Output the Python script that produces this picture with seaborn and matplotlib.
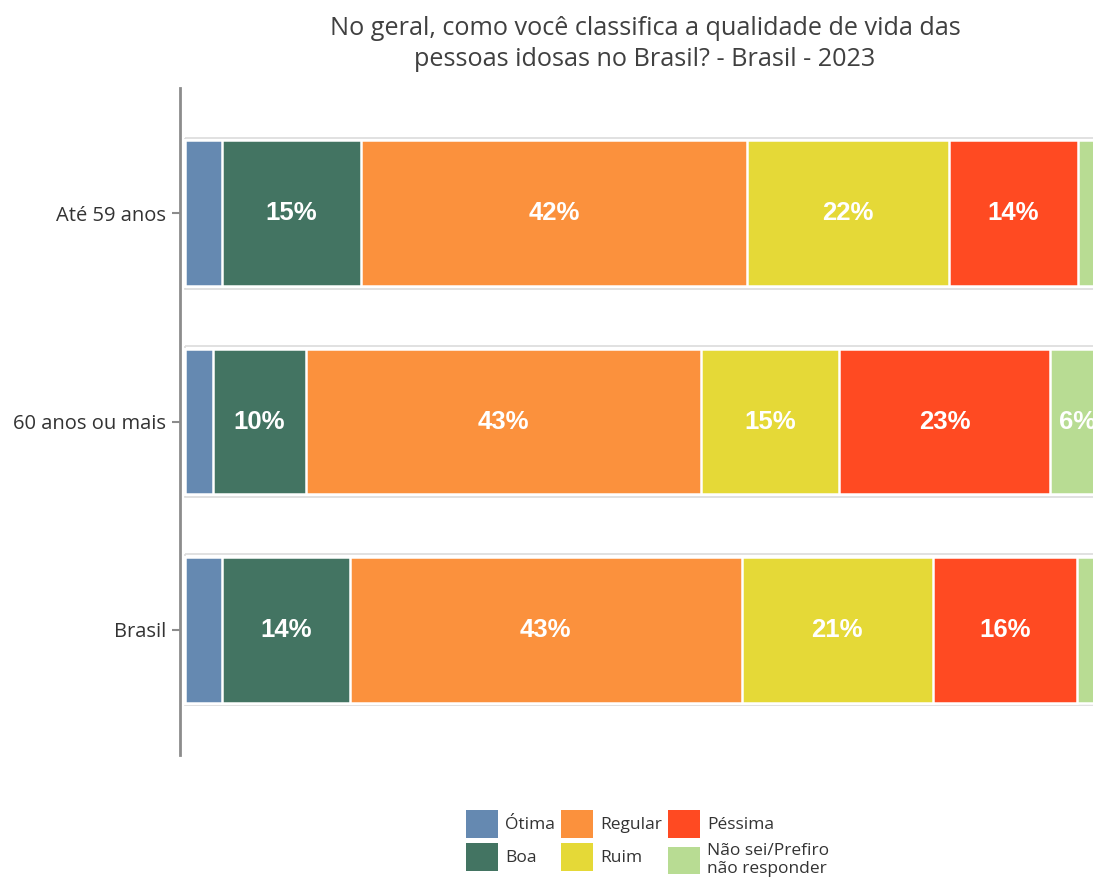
import numpy as np
import pandas as pd
import matplotlib
matplotlib.use("Agg")
import matplotlib.pyplot as plt
from matplotlib.patches import Patch
import seaborn as sns

groups = ["Até 59 anos", "60 anos ou mais", "Brasil"]
categories = ["Ótima", "Boa", "Regular", "Ruim", "Péssima", "Não sei/Prefiro\nnão responder"]
otima = [4.0, 3.0, 4.0]
boa = [15.1, 10.2, 13.9]
regular = [42.0, 42.9, 42.6]
ruim = [21.9, 15.0, 20.8]
pessima = [14.1, 22.9, 15.7]
nao_sei = [2.9, 6.0, 3.0]
colors = ["#6589B1", "#437462", "#FB913D", "#E5D937", "#FF4A22", "#B8DC93"]

sns.set_style("white")
plt.rcParams["font.family"] = ["Open Sans", "DejaVu Sans"]

series = np.array([otima, boa, regular, ruim, pessima, nao_sei], dtype=float)
cum = np.cumsum(series, axis=0)
df = pd.DataFrame(cum.T, columns=categories)
df["grupo"] = groups

fig = plt.figure(figsize=(10.93, 8.8), dpi=100)
ax = fig.add_axes([180 / 1093, 1 - 755 / 880, 1 - 180 / 1093, (755 - 88) / 880])

# light frame around each whole bar
sns.barplot(data=df, x=categories[-1], y="grupo", orient="h", fill=False,
            color="#dcdcdc", width=0.725, linewidth=1.2, ax=ax)

# stacked bars: draw cumulative totals from the outermost inward
for i in range(len(categories) - 1, -1, -1):
    sns.barplot(data=df, x=categories[i], y="grupo", orient="h", color=colors[i],
                saturation=1, width=0.7, edgecolor="white", linewidth=1.8, ax=ax)

for gi in range(len(groups)):
    start = 0
    for ci in range(len(categories)):
        v = series[ci, gi]
        if v >= 5:
            ax.text(start + v / 2, gi, f"{round(v):.0f}%", ha="center", va="center",
                    color="white", fontsize=18.5, fontweight="bold",
                    family=["Liberation Sans", "DejaVu Sans"])
        start += v

ax.set_xlim(-0.54, 98.7)
ax.set_ylim(2.6, -0.6)
ax.set_xlabel("")
ax.set_ylabel("")
ax.set_xticks([])
for s in ["top", "right", "bottom"]:
    ax.spines[s].set_visible(False)
ax.spines["left"].set_color("#8c8c8c")
ax.spines["left"].set_linewidth(2)
ax.tick_params(axis="y", left=True, length=6, width=1.5, color="#8c8c8c",
               labelsize=14.5, labelcolor="#333333", pad=4)

fig.text(645 / 1093, 1 - 44 / 880,
         "No geral, como você classifica a qualidade de vida das\npessoas idosas no Brasil? - Brasil - 2023",
         ha="center", va="center", fontsize=18.2, color="#404040", linespacing=1.3)

handles = [Patch(facecolor=c, edgecolor="none") for c in colors]
fig.legend(handles, categories, loc="upper center", bbox_to_anchor=(648 / 1093, 1 - 794 / 880),
           ncol=3, frameon=False, fontsize=12.5, handlelength=1.8, handleheight=2.1,
           handletextpad=0.45, columnspacing=0.35, labelspacing=0.3, labelcolor="#333333")

fig.savefig("out.png", dpi=100)
